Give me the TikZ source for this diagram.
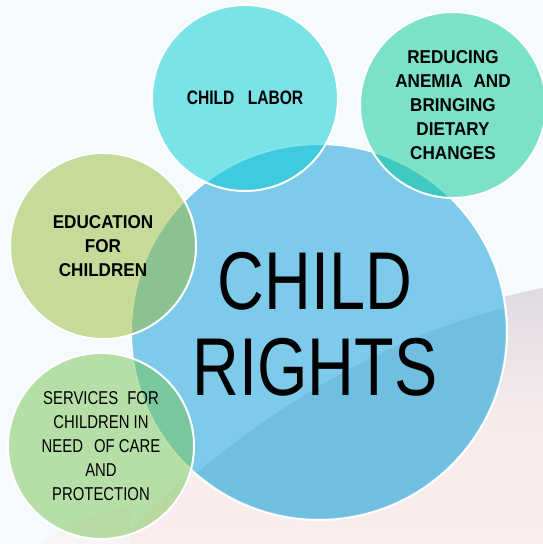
\documentclass[tikz,border=0pt]{standalone}
\usepackage{fontspec}
\setmainfont{Liberation Sans}
\newfontfamily\titlefont[FakeStretch=0.79]{Liberation Sans}
\newfontfamily\bubblefont[FakeStretch=0.92]{Liberation Sans}
\newfontfamily\narrowfont[FakeStretch=0.8]{Liberation Sans}
\usepackage{xcolor}
\definecolor{cBack}{HTML}{F5FBFD}
\definecolor{cPink}{HTML}{FAEDED}
\definecolor{cHaze}{HTML}{E0DBE2}
\definecolor{cRights}{HTML}{7DCAEA}
\definecolor{cShade}{HTML}{4FA3CC}
\definecolor{cLabor}{HTML}{01CDD5}
\definecolor{cAnemia}{HTML}{05C997}
\definecolor{cEducation}{HTML}{99BB39}
\definecolor{cServices}{HTML}{77C551}
\usepackage{tikz}
\tikzset{
  node-rights/.style={circle,draw=white,line width=2pt,fill=cRights,
    minimum size=376pt,inner sep=0pt},
  node-bubble/.style={circle,draw=white,line width=2pt,minimum size=186pt,
    inner sep=0pt,align=center,fill opacity=0.5,draw opacity=1,text opacity=1},
  text-title/.style={align=center,font=\titlefont\fontsize{82}{86}\selectfont},
  text-bold/.style={font=\bubblefont\bfseries\fontsize{18.6}{24}\selectfont},
  text-narrow-bold/.style={font=\narrowfont\bfseries\fontsize{19.5}{24}\selectfont},
  text-narrow/.style={font=\narrowfont\fontsize{18.6}{23.8}\selectfont},
}

\begin{document}
\begin{tikzpicture}[x=1pt,y=-1pt]
  \useasboundingbox (0,0) rectangle (543,544);
  \clip (0,0) rectangle (543,544);
  % background
  \fill[cBack] (0,0) rectangle (543,544);
  \shade[top color=cHaze,bottom color=cPink,middle color=cPink!85!cHaze]
    (543,288) .. controls (400,314) and (240,410) .. (118,544)
    -- (543,544) -- cycle;
  \fill[cPink!60!cBack] (40,544) .. controls (70,520) and (100,515) .. (130,505)
    -- (130,544) -- cycle;

  % centre
  \node[node-rights] (rights) at (319,332) {};
  \begin{scope}
    \clip (319,332) circle[radius=186];
    \fill[cShade,opacity=0.28] (543,300) .. controls (420,320) and (260,400) .. (120,544)
      -- (543,544) -- cycle;
  \end{scope}
  \node[text-title] (title) at (315,324.5) {CHILD\\RIGHTS};

  % bubbles
  \node[node-bubble,fill=cLabor,text-narrow-bold] (labor) at (245,98)
    {CHILD\hspace{9pt} LABOR};
  \node[node-bubble,fill=cAnemia,text-bold] (anemia) at (453,105)
    {REDUCING\\ANEMIA\hspace{6pt} AND\\BRINGING\\DIETARY\\CHANGES};
  \node[node-bubble,fill=cEducation,text-bold] (education) at (103,246)
    {EDUCATION\\FOR\\CHILDREN};
  \node[node-bubble,fill=cServices,text-narrow] (services) at (101,446)
    {SERVICES\hspace{5pt} FOR\\CHILDREN IN\\NEED\hspace{7pt} OF CARE\\AND\\PROTECTION};
\end{tikzpicture}
\end{document}
